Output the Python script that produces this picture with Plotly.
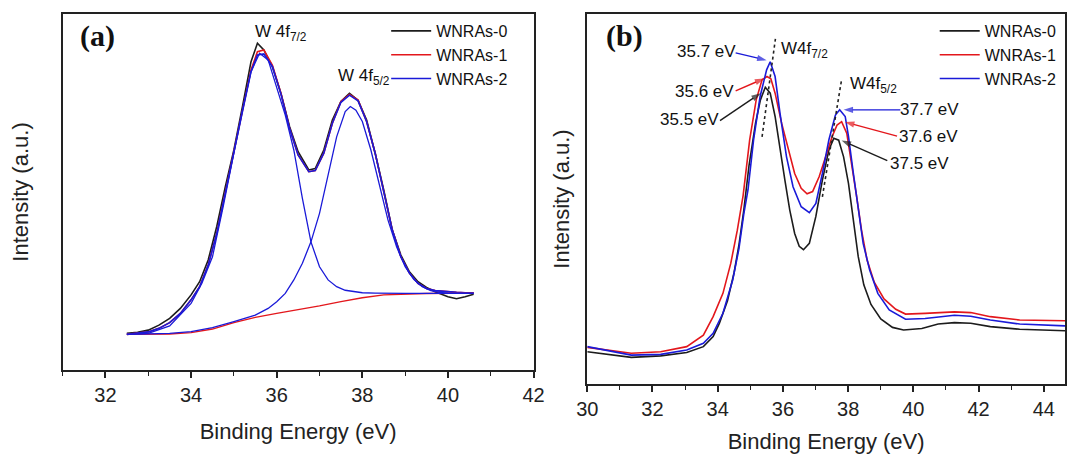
import plotly.graph_objects as go

# ---------------- Panel (a) data ----------------
a_x = [32.5, 32.75, 33.0, 33.25, 33.5, 33.75, 34.0, 34.2, 34.4, 34.6, 34.8, 35.0, 35.2, 35.4, 35.55,
       35.7, 35.9, 36.1, 36.3, 36.5, 36.75, 36.9, 37.1, 37.3, 37.5, 37.7, 37.9, 38.1, 38.3, 38.5,
       38.7, 38.9, 39.1, 39.3, 39.5, 39.7, 40.0, 40.2, 40.4, 40.6]
a_wnras0 = [10.3, 10.6, 11.2, 12.6, 14.5, 17.3, 21.1, 24.8, 30.9, 40.3, 51.5, 61.8, 74.0, 86.6, 91.8,
            89.9, 85.2, 77.7, 68.4, 61.3, 56.2, 56.6, 61.8, 70.2, 75.4, 77.7, 75.8, 70.2, 60.9, 50.6,
            39.3, 32.3, 27.6, 24.8, 23.2, 22.0, 20.6, 20.0, 20.6, 21.3]
a_wnras1 = [10.0, 10.3, 10.7, 11.7, 13.3, 15.9, 19.7, 23.4, 29.5, 38.4, 50.1, 61.3, 73.0, 84.3, 89.4,
            89.9, 85.6, 77.7, 67.9, 60.4, 55.7, 56.0, 60.9, 69.3, 75.4, 77.4, 75.8, 69.8, 60.9, 50.1,
            39.3, 31.8, 27.2, 24.3, 22.9, 22.3, 21.9, 21.8, 21.7, 21.7]
a_wnras2 = [10.0, 10.3, 10.7, 11.7, 13.3, 15.9, 19.7, 23.4, 29.5, 38.4, 50.1, 61.0, 72.6, 83.8, 88.5,
            88.8, 85.2, 77.5, 67.9, 60.4, 55.7, 56.0, 60.9, 69.3, 75.2, 77.2, 75.6, 69.8, 60.9, 50.1,
            39.3, 31.8, 27.2, 24.3, 22.9, 22.3, 21.9, 21.8, 21.7, 21.7]

a_comp_x = [32.5, 33.0, 33.5, 34.0, 34.25, 34.5, 34.75, 35.0, 35.2, 35.4, 35.6, 35.8, 36.0, 36.2,
            36.4, 36.6, 36.8, 37.0, 37.2, 37.4, 37.6, 37.8, 38.0, 38.3, 38.6, 39.0, 39.5, 40.0, 40.6]
a_fit_4f72 = [10.0, 10.3, 12.4, 18.7, 24.3, 31.8, 45.9, 60.9, 73.0, 83.8, 89.0, 87.1, 79.6, 71.6,
              61.8, 48.2, 36.0, 29.0, 25.3, 23.4, 22.4, 22.0, 21.7, 21.6, 21.5, 21.5, 21.5, 21.5, 21.5]

a_comp2_x = [32.5, 33.0, 33.5, 34.0, 34.5, 35.0, 35.5, 35.8, 36.0, 36.2, 36.4, 36.6, 36.8, 37.0,
             37.2, 37.4, 37.6, 37.72, 37.85, 38.0, 38.2, 38.4, 38.6, 38.8, 39.0, 39.2, 39.4, 39.6,
             39.8, 40.0, 40.6]
a_fit_4f52 = [10.0, 10.1, 10.3, 10.8, 11.9, 13.6, 15.4, 17.3, 19.2, 21.5, 25.3, 30.0, 36.0, 44.0,
              55.2, 65.5, 72.6, 74.0, 73.0, 69.8, 61.8, 51.5, 42.1, 34.6, 29.0, 25.5, 23.4, 22.3,
              21.8, 21.6, 21.5]

a_bg_x = [32.5, 33.5, 34.0, 34.5, 35.0, 35.5, 36.0, 36.5, 37.0, 37.5, 38.0, 38.5, 39.0, 39.5, 40.6]
a_bg = [10.0, 10.1, 10.5, 11.5, 13.3, 14.8, 15.9, 16.9, 18.0, 19.2, 20.3, 21.1, 21.3, 21.5, 21.6]

# ---------------- Panel (b) data ----------------
b0_x = [30.0, 30.75, 31.35, 32.25, 33.05, 33.56, 33.86, 34.05, 34.3, 34.5, 34.65, 34.8, 34.96,
        35.16, 35.31, 35.46, 35.61, 35.76, 35.91, 36.06, 36.21, 36.36, 36.5, 36.63, 36.81, 37.01,
        37.21, 37.41, 37.56, 37.71, 37.86, 38.01, 38.16, 38.31, 38.48, 38.7, 39.0, 39.36, 39.7,
        40.26, 40.76, 41.26, 41.76, 42.36, 43.26, 44.65]
b_wnras0 = [8.7, 7.8, 7.2, 7.6, 8.5, 10.1, 12.8, 16.4, 22.5, 30.0, 37.5, 47.0, 59.0,
            70.5, 76.8, 80.2, 78.6, 72.3, 63.3, 55.1, 47.0, 40.7, 37.2, 36.3, 38.0, 45.3,
            55.1, 63.3, 66.4, 65.9, 61.4, 54.2, 44.3, 34.4, 26.8, 21.5, 17.6, 15.3, 14.6,
            15.0, 16.2, 16.6, 16.4, 15.5, 14.8, 14.4]

b1_x = [30.0, 31.35, 32.25, 33.05, 33.56, 33.86, 34.16, 34.4, 34.6, 34.78, 34.98, 35.18, 35.36,
        35.51, 35.63, 35.76, 35.96, 36.16, 36.36, 36.56, 36.74, 36.91, 37.11, 37.31, 37.51, 37.66,
        37.8, 37.96, 38.11, 38.26, 38.41, 38.58, 38.8, 39.1, 39.46, 39.76, 40.36, 41.26, 41.76,
        42.36, 43.26, 44.65]
b_wnras1 = [9.9, 8.3, 8.7, 10.1, 13.2, 18.2, 24.5, 32.6, 41.5, 51.0, 66.0, 76.8, 82.2,
            83.1, 82.5, 78.6, 70.5, 63.3, 56.9, 52.9, 51.4, 52.0, 56.0, 61.4, 66.9, 70.0,
            70.9, 67.7, 59.6, 50.7, 41.6, 33.5, 27.5, 23.0, 20.2, 18.9, 19.1, 19.5, 19.3,
            18.2, 17.3, 17.1]

b2_x = [30.0, 31.35, 32.25, 33.05, 33.56, 33.86, 34.16, 34.46, 34.65, 34.8, 34.93, 35.1, 35.3,
        35.5, 35.61, 35.76, 35.91, 36.11, 36.31, 36.56, 36.81, 37.01, 37.21, 37.41, 37.61, 37.74,
        37.91, 38.01, 38.16, 38.31, 38.46, 38.66, 38.91, 39.26, 39.76, 40.36, 41.26, 41.76, 42.36,
        43.26, 44.65]
b_wnras2 = [10.1, 7.8, 8.0, 9.2, 11.0, 13.7, 19.1, 28.1, 36.5, 46.0, 52.5, 66.0, 77.7,
            84.9, 87.1, 83.1, 73.2, 61.4, 53.3, 47.9, 46.3, 48.8, 56.9, 66.0, 72.7, 74.1,
            72.3, 66.9, 56.9, 47.0, 38.0, 30.8, 24.5, 20.0, 17.5, 17.7, 18.6, 18.3, 17.3,
            16.2, 15.7]

# dotted guide lines through the peaks
guide1_x = [35.36, 35.77]
guide1_y = [66.8, 93.3]
guide2_x = [37.21, 37.79]
guide2_y = [50.6, 81.8]

# peak labels: text, text centre, arrow tail, arrow tip, series index
peak_labels = ["35.7 eV", "35.6 eV", "35.5 eV", "37.7 eV", "37.6 eV", "37.5 eV"]
label_x = [33.65, 33.6, 33.13, 40.5, 40.45, 40.18]
label_y = [89.8, 79.0, 71.4, 74.1, 67.0, 59.6]
tail_x = [34.55, 34.55, 34.07, 39.6, 39.5, 39.2]
tail_y = [89.5, 79.2, 71.2, 74.1, 67.0, 60.4]
tip_x = [35.5, 35.43, 35.32, 37.86, 37.9, 37.8]
tip_y = [87.5, 82.6, 78.6, 74.1, 70.8, 65.8]
label_series = [2, 1, 0, 2, 1, 0]

series_names = ["WNRAs-0", "WNRAs-1", "WNRAs-2"]
colors = ["#1c1c1c", "#e3171c", "#1a1ad8"]

FONT = "Liberation Sans, Arial, sans-serif"
W, H = 1076, 454

fig = go.Figure()

# Panel (a)
for name, y, c in zip(series_names, [a_wnras0, a_wnras1, a_wnras2], colors):
    fig.add_trace(go.Scatter(x=a_x, y=y, mode="lines", name=name, line=dict(color=c, width=1.6),
                             xaxis="x", yaxis="y", legend="legend"))
fig.add_trace(go.Scatter(x=a_bg_x, y=a_bg, mode="lines", line=dict(color=colors[1], width=1.4),
                         showlegend=False, xaxis="x", yaxis="y"))
fig.add_trace(go.Scatter(x=a_comp_x, y=a_fit_4f72, mode="lines", line=dict(color=colors[2], width=1.3),
                         showlegend=False, xaxis="x", yaxis="y"))
fig.add_trace(go.Scatter(x=a_comp2_x, y=a_fit_4f52, mode="lines", line=dict(color=colors[2], width=1.3),
                         showlegend=False, xaxis="x", yaxis="y"))

# Panel (b)
for name, xs, y, c in zip(series_names, [b0_x, b1_x, b2_x], [b_wnras0, b_wnras1, b_wnras2], colors):
    fig.add_trace(go.Scatter(x=xs, y=y, mode="lines", name=name, line=dict(color=c, width=1.6),
                             xaxis="x2", yaxis="y2", legend="legend2"))
for gx, gy in [(guide1_x, guide1_y), (guide2_x, guide2_y)]:
    fig.add_trace(go.Scatter(x=gx, y=gy, mode="lines", line=dict(color="#222", width=1.6, dash="dot"),
                             showlegend=False, xaxis="x2", yaxis="y2"))

# arrows (line + arrow-head marker) from each label to its peak
for i in range(len(peak_labels)):
    c = colors[label_series[i]]
    fig.add_trace(go.Scatter(x=[tail_x[i], tip_x[i]], y=[tail_y[i], tip_y[i]], mode="lines+markers",
                             line=dict(color=c, width=1.4),
                             marker=dict(symbol="arrow", size=[0, 10], angleref="previous", color=c,
                                         line=dict(width=0)),
                             showlegend=False, hoverinfo="skip", xaxis="x2", yaxis="y2"))

ann = []
for i, t in enumerate(peak_labels):
    ann.append(dict(xref="x2", yref="y2", x=label_x[i], y=label_y[i], text=t, showarrow=False,
                    font=dict(family=FONT, size=17, color="#111")))

ann += [
    dict(xref="x", yref="y", x=35.45, y=94.6, xanchor="left", text="W 4f<sub>7/2</sub>", showarrow=False,
         font=dict(family=FONT, size=17, color="#111")),
    dict(xref="x", yref="y", x=37.38, y=82.4, xanchor="left", text="W 4f<sub>5/2</sub>", showarrow=False,
         font=dict(family=FONT, size=17, color="#111")),
    dict(xref="x2", yref="y2", x=35.88, y=90.3, xanchor="left", text="W4f<sub>7/2</sub>", showarrow=False,
         font=dict(family=FONT, size=17, color="#111")),
    dict(xref="x2", yref="y2", x=38.0, y=80.8, xanchor="left", text="W4f<sub>5/2</sub>", showarrow=False,
         font=dict(family=FONT, size=17, color="#111")),
    dict(xref="paper", yref="paper", x=88 / W, y=1 - 36 / H, xanchor="center", yanchor="middle",
         text="<b>(a)</b>", showarrow=False,
         font=dict(family="Liberation Serif, Times New Roman, serif", size=30, color="#111")),
    dict(xref="paper", yref="paper", x=626 / W, y=1 - 36 / H, xanchor="center", yanchor="middle",
         text="<b>(b)</b>", showarrow=False,
         font=dict(family="Liberation Serif, Times New Roman, serif", size=30, color="#111")),
]

axis_common = dict(showline=True, linecolor="#222", linewidth=1.5, mirror=True, showgrid=False,
                   zeroline=False)
xcommon = dict(axis_common, ticks="outside", ticklen=6, tickwidth=1.5, tickcolor="#222", dtick=2,
               tickfont=dict(family=FONT, size=20, color="#222"),
               minor=dict(dtick=1, ticks="outside", ticklen=4, tickwidth=1.3, tickcolor="#222"))
ycommon = dict(axis_common, showticklabels=False, ticks="", range=[0, 100])
xtitle = dict(text="Binding Energy (eV)", font=dict(family=FONT, size=22, color="#222"))
ytitle = dict(text="Intensity (a.u.)", font=dict(family=FONT, size=22, color="#222"))

fig.update_layout(
    width=W, height=H, margin=dict(l=0, r=0, t=0, b=0),
    paper_bgcolor="white", plot_bgcolor="white",
    xaxis=dict(xcommon, domain=[52.7 / W, 533.5 / W], range=[31, 42], anchor="y", tick0=32,
               title=dict(xtitle, standoff=19)),
    yaxis=dict(ycommon, domain=[1 - 370 / H, 1 - 14 / H], anchor="x", title=dict(ytitle, standoff=26)),
    xaxis2=dict(xcommon, domain=[588.3 / W, 1.0], range=[30, 44.65], anchor="y2", tick0=30,
                title=dict(xtitle, standoff=16)),
    yaxis2=dict(ycommon, domain=[1 - 384 / H, 1 - 14 / H], anchor="x2", title=dict(ytitle, standoff=10)),
    legend=dict(x=383 / W, y=1 - 14 / H, xanchor="left", yanchor="top", bgcolor="rgba(0,0,0,0)",
                font=dict(family=FONT, size=16, color="#111"), itemwidth=40, tracegroupgap=0),
    legend2=dict(x=943 / W, y=1 - 14 / H, xanchor="left", yanchor="top", bgcolor="rgba(0,0,0,0)",
                 font=dict(family=FONT, size=16, color="#111"), itemwidth=40, tracegroupgap=0),
    annotations=ann,
    showlegend=True,
)

fig.write_html("out.html")
